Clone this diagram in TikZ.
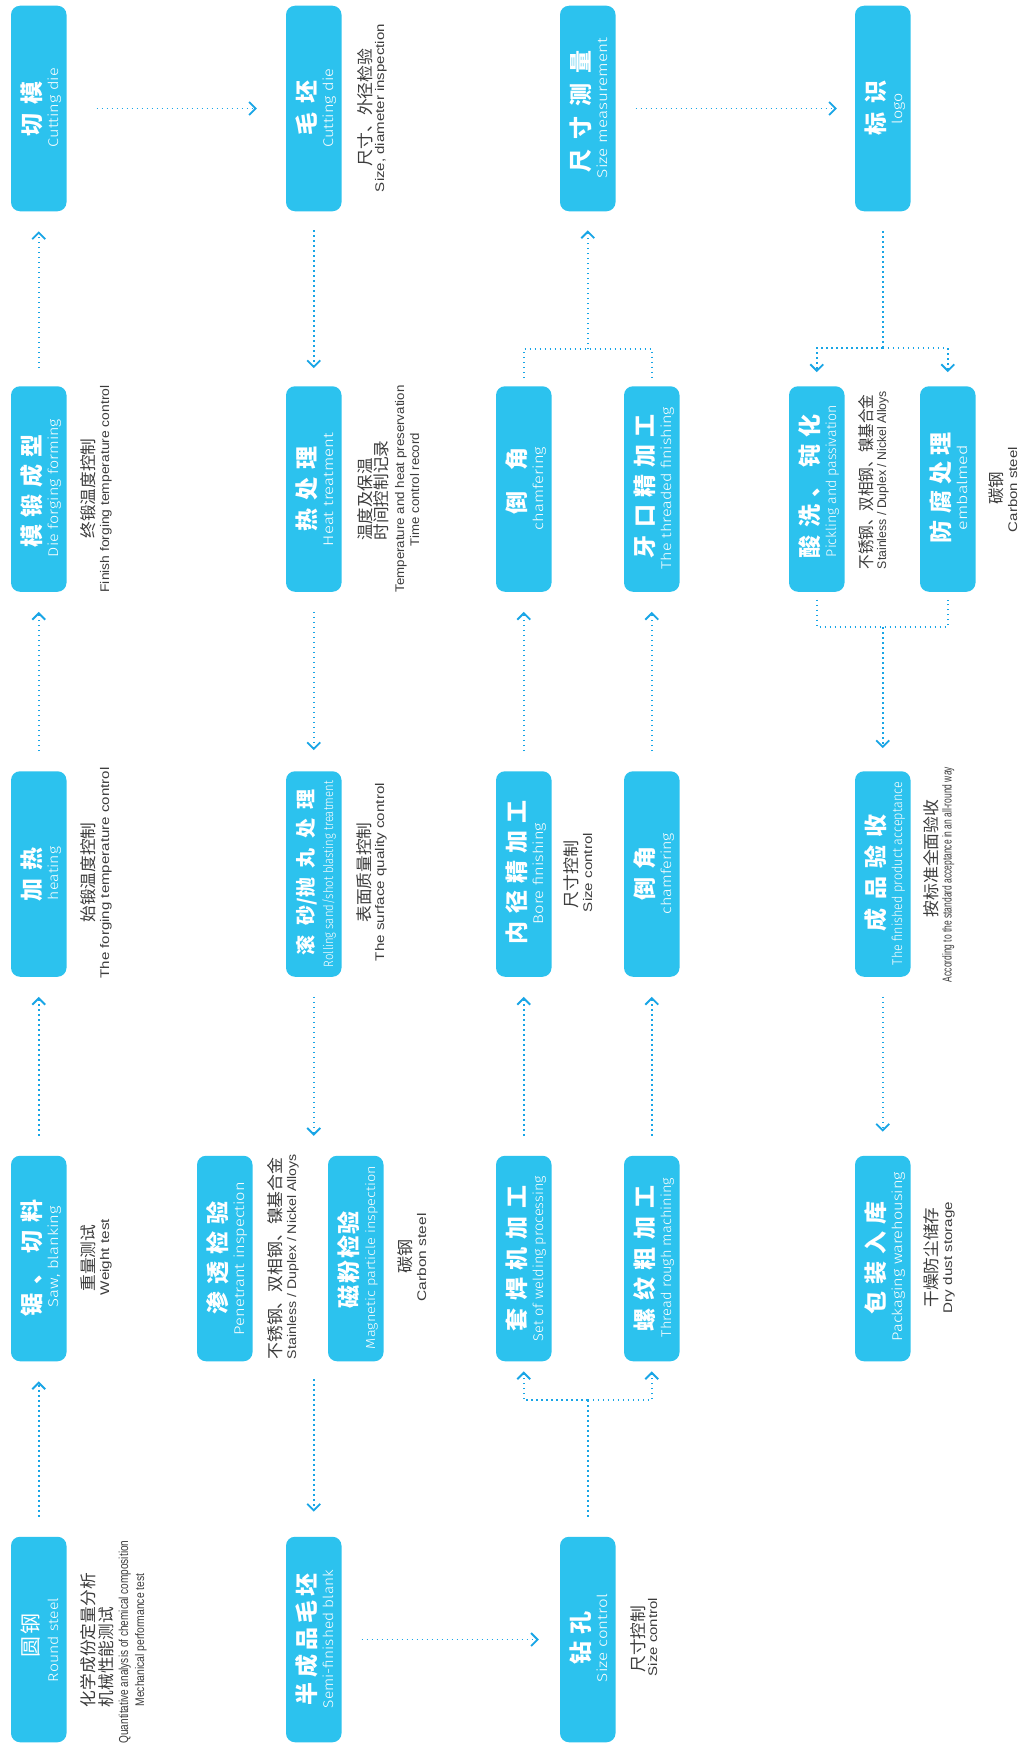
\documentclass[tikz,border=0pt]{standalone}
\usepackage{fontspec}
\usetikzlibrary{arrows.meta,calc}
\newfontfamily\zhf{Noto Sans CJK SC}
\newfontfamily\enf{Fira Sans Light}
\newfontfamily\ena{Liberation Sans}
\definecolor{boxc}{RGB}{44,194,238}
\definecolor{arrc}{RGB}{24,165,230}
\definecolor{annc}{RGB}{60,60,60}
\newsavebox\fitbox
\newlength\fitlen
\newcommand\fitto[2]{\sbox\fitbox{#2}\setlength\fitlen{\wd\fitbox}\pgfmathsetmacro\fitr{#1/\fitlen}\scalebox{\fitr}[1]{\usebox\fitbox}}
\newcommand\ZT[3]{{\zhf\bfseries\fontsize{#1pt}{#1pt}\selectfont\hbox to #2pt{#3}}}
\newcommand\ZR[3]{{\zhf\fontsize{#1pt}{#1pt}\selectfont\hbox to #2pt{#3}}}
\newcommand\ET[3]{\fitto{#2}{\enf\fontsize{#1pt}{#1pt}\selectfont #3}}
\newcommand\ZA[2]{\fitto{#1}{\zhf\fontsize{16.5pt}{16.5pt}\selectfont #2}}
\newcommand\EA[3]{\fitto{#2}{\ena\fontsize{#1pt}{#1pt}\selectfont #3}}
\newcommand\gp{\hfil}
\begin{document}
\begin{tikzpicture}[x=1pt,y=-1pt,
  pbox/.style={fill=boxc, draw=none, rounded corners=9pt, minimum width=55.5pt, minimum height=205.5pt, inner sep=0pt},
  ttl/.style={rotate=90, anchor=base, inner sep=0pt, outer sep=0pt, text=white},
  ann/.style={rotate=90, anchor=base, inner sep=0pt, outer sep=0pt, text=annc},
  flow/.style={draw=arrc, line width=1.5pt, dash pattern=on 1.5pt off 3.5pt},
  chev/.style={-{Straight Barb[length=6.5pt,width=13pt,line width=1.8pt]}}]
\fill[white] (0,0) rectangle (1024,1745);
\useasboundingbox (0,0) rectangle (1024,1745);

% ---------------- boxes ----------------
\node[pbox] (qiemo) at (38.75,108.5) {};
\node[pbox] (moduan) at (38.75,489) {};
\node[pbox] (jiare) at (38.75,874) {};
\node[pbox] (juqie) at (38.75,1258.5) {};
\node[pbox] (yuangang) at (38.75,1639.5) {};
\node[pbox] (shentou) at (224.75,1258.5) {};
\node[pbox] (maopi) at (313.75,108.5) {};
\node[pbox] (rechuli) at (313.75,489) {};
\node[pbox] (gunsha) at (313.75,874) {};
\node[pbox] (banchengpin) at (313.75,1639.5) {};
\node[pbox] (cifen) at (355.75,1258.5) {};
\node[pbox] (daojiao1) at (523.75,489) {};
\node[pbox] (neijing) at (523.75,874) {};
\node[pbox] (taohan) at (523.75,1258.5) {};
\node[pbox] (chicun) at (587.75,108.5) {};
\node[pbox] (zuankong) at (587.75,1639.5) {};
\node[pbox] (yakou) at (651.75,489) {};
\node[pbox] (daojiao2) at (651.75,874) {};
\node[pbox] (luowen) at (651.75,1258.5) {};
\node[pbox] (suanxi) at (816.75,489) {};
\node[pbox] (biaoshi) at (882.75,108.5) {};
\node[pbox] (chengpin) at (882.75,874) {};
\node[pbox] (baozhuang) at (882.75,1258.5) {};
\node[pbox] (fangfu) at (947.75,489) {};

% ---------------- titles ----------------
\node[ttl] (qiemo-zh) at (40,108.5) {\ZT{23}{55}{切\gp 模}};
\node[ttl] (qiemo-en) at (58,107.5) {\ET{14}{79}{Cutting die}};
\node[ttl] (moduan-zh) at (40,490.5) {\ZT{23}{113}{模\gp 锻\gp 成\gp 型}};
\node[ttl] (moduan-en) at (58,488) {\ET{14}{138}{Die forging forming}};
\node[ttl] (jiare-zh) at (40,874.5) {\ZT{23}{54}{加\gp 热}};
\node[ttl] (jiare-en) at (58,873.5) {\ET{14}{53}{heating}};
\node[ttl] (juqie-zh) at (40,1257.5) {\ZT{23}{117}{锯\gp 、\gp 切\gp 料}};
\node[ttl] (juqie-en) at (58,1256.5) {\ET{14}{101}{Saw, blanking}};
\node[ttl] (yuangang-zh) at (38.5,1635) {\ZR{21}{44}{圆\gp 钢}};
\node[ttl] (yuangang-en) at (58,1640) {\ET{14}{84}{Round steel}};

\node[ttl] (shentou-zh) at (226,1257.5) {\ZT{23}{113}{渗\gp 透\gp 检\gp 验}};
\node[ttl] (shentou-en) at (244,1258.5) {\ET{14}{153}{Penetrant inspection}};
\node[ttl] (maopi-zh) at (315,107.5) {\ZT{23}{55}{毛\gp 坯}};
\node[ttl] (maopi-en) at (333,108) {\ET{14}{79}{Cutting die}};
\node[ttl] (rechuli-zh) at (315,488.5) {\ZT{23}{85}{热\gp 处\gp 理}};
\node[ttl] (rechuli-en) at (333,489.5) {\ET{14}{113}{Heat treatment}};
\node[ttl] (gunsha-zh) at (313.5,872) {\ZT{20}{166}{滚\gp 砂/抛\gp 丸\gp 处\gp 理}};
\node[ttl] (gunsha-en) at (333,874) {\ET{13.5}{186}{Rolling sand/shot blasting treatment}};
\node[ttl] (banchengpin-zh) at (315,1639) {\ZT{23}{132}{半\gp 成\gp 品\gp 毛\gp 坯}};
\node[ttl] (banchengpin-en) at (333,1639) {\ET{14}{138}{Semi-finished blank}};
\node[ttl] (cifen-zh) at (357,1259.5) {\ZT{23}{97}{磁\gp 粉\gp 检\gp 验}};
\node[ttl] (cifen-en) at (375,1257.5) {\ET{13}{183}{Magnetic particle inspection}};

\node[ttl] (daojiao1-zh) at (525,481) {\ZT{23}{67}{倒\gp 角}};
\node[ttl] (daojiao1-en) at (543,488.5) {\ET{14}{83}{chamfering}};
\node[ttl] (neijing-zh) at (525,872) {\ZT{23}{144}{内\gp 径\gp 精\gp 加\gp 工}};
\node[ttl] (neijing-en) at (543,873.5) {\ET{14}{101}{Bore finishing}};
\node[ttl] (taohan-zh) at (525,1258.5) {\ZT{23}{146}{套\gp 焊\gp 机\gp 加\gp 工}};
\node[ttl] (taohan-en) at (543,1258.5) {\ET{14}{165}{Set of welding processing}};
\node[ttl] (chicun-zh) at (589,111) {\ZT{23}{122}{尺\gp 寸\gp 测\gp 量}};
\node[ttl] (chicun-en) at (607,108) {\ET{14}{140}{Size measurement}};
\node[ttl] (zuankong-zh) at (589,1638) {\ZT{23}{53}{钻\gp 孔}};
\node[ttl] (zuankong-en) at (607,1638) {\ET{14}{88}{Size control}};
\node[ttl] (yakou-zh) at (653,486) {\ZT{23}{144}{牙\gp 口\gp 精\gp 加\gp 工}};
\node[ttl] (yakou-en) at (671,488) {\ET{14}{162}{The threaded finishing}};
\node[ttl] (daojiao2-zh) at (653,873.5) {\ZT{23}{54}{倒\gp 角}};
\node[ttl] (daojiao2-en) at (671,873.5) {\ET{14}{81}{chamfering}};
\node[ttl] (luowen-zh) at (653,1258.5) {\ZT{23}{146}{螺\gp 纹\gp 粗\gp 加\gp 工}};
\node[ttl] (luowen-en) at (671,1257.5) {\ET{14}{159}{Thread rough machining}};

\node[ttl] (suanxi-zh) at (818,486) {\ZT{23}{144}{酸\gp 洗\gp 、\gp 钝\gp 化}};
\node[ttl] (suanxi-en) at (836,481) {\ET{14}{152}{Pickling and passivation}};
\node[ttl] (biaoshi-zh) at (884,107.5) {\ZT{23}{55}{标\gp 识}};
\node[ttl] (biaoshi-en) at (902,109) {\ET{14}{31}{logo}};
\node[ttl] (chengpin-zh) at (884,872.5) {\ZT{23}{117}{成\gp 品\gp 验\gp 收}};
\node[ttl] (chengpin-en) at (902,873.5) {\ET{14}{183}{The finished product acceptance}};
\node[ttl] (baozhuang-zh) at (884,1257.5) {\ZT{23}{113}{包\gp 装\gp 入\gp 库}};
\node[ttl] (baozhuang-en) at (902,1256.5) {\ET{14}{169}{Packaging warehousing}};
\node[ttl] (fangfu-zh) at (949,487.5) {\ZT{23}{111}{防\gp 腐\gp 处\gp 理}};
\node[ttl] (fangfu-en) at (967,487.5) {\ET{14}{85}{embalmed}};

% ---------------- annotations ----------------
\node[ann] (moduan-a1) at (94,488.5) {\ZA{100}{终锻温度控制}};
\node[ann] (moduan-a2) at (109,489) {\EA{12.5}{207}{Finish forging temperature control}};
\node[ann] (jiare-a1) at (94,872.5) {\ZA{100}{始锻温度控制}};
\node[ann] (jiare-a2) at (109,873) {\EA{12.5}{211}{The forging temperature control}};
\node[ann] (juqie-a1) at (94,1258) {\ZA{67}{重量测试}};
\node[ann] (juqie-a2) at (109,1257) {\EA{12.5}{76}{Weight test}};
\node[ann] (yuangang-a1) at (94,1640) {\ZA{134}{化学成份定量分析}};
\node[ann] (yuangang-a2) at (112,1657) {\ZA{100}{机械性能测试}};
\node[ann] (yuangang-a3) at (128,1642) {\EA{13}{203}{Quantitative analysis of chemical composition}};
\node[ann] (yuangang-a4) at (144,1640) {\EA{12.5}{133}{Mechanical performance test}};

\node[ann] (shentou-a1) at (281,1258.5) {\ZA{202}{不锈钢、双相钢、镍基合金}};
\node[ann] (shentou-a2) at (296,1256.5) {\EA{12.5}{205}{Stainless / Duplex / Nickel Alloys}};
\node[ann] (maopi-a1) at (371,107.5) {\ZA{118}{尺寸、外径检验}};
\node[ann] (maopi-a2) at (384,108) {\EA{12.5}{168}{Size, diameter inspection}};
\node[ann] (rechuli-a1) at (371,499.5) {\ZA{82}{温度及保温}};
\node[ann] (rechuli-a2) at (387,490.5) {\ZA{100}{时间控制记录}};
\node[ann] (rechuli-a3) at (404,489) {\EA{12.5}{207}{Temperature and heat preservation}};
\node[ann] (rechuli-a4) at (419,489.5) {\EA{12.5}{113}{Time control record}};
\node[ann] (gunsha-a1) at (370,872.5) {\ZA{100}{表面质量控制}};
\node[ann] (gunsha-a2) at (384,872) {\EA{12.5}{178}{The surface quality control}};
\node[ann] (cifen-a1) at (411,1256.5) {\ZA{34}{碳钢}};
\node[ann] (cifen-a2) at (426,1257.5) {\EA{12.5}{88}{Carbon steel}};

\node[ann] (neijing-a1) at (577,874.5) {\ZA{68}{尺寸控制}};
\node[ann] (neijing-a2) at (592,872.5) {\EA{12.5}{79}{Size control}};
\node[ann] (zuankong-a1) at (644,1639) {\ZA{67}{尺寸控制}};
\node[ann] (zuankong-a2) at (657,1637) {\EA{12.5}{78}{Size control}};

\node[ann] (suanxi-a1) at (872,482) {\ZA{175}{不锈钢、双相钢、镍基合金}};
\node[ann] (suanxi-a2) at (886,480) {\EA{12.5}{178}{Stainless / Duplex / Nickel Alloys}};
\node[ann] (fangfu-a1) at (1002,488) {\ZA{33}{碳钢}};
\node[ann] (fangfu-a2) at (1017,489.5) {\EA{12.5}{85}{Carbon steel}};
\node[ann] (chengpin-a1) at (937,858.5) {\ZA{118}{按标准全面验收}};
\node[ann] (chengpin-a2) at (951.5,874.5) {\EA{13}{215}{According to the standard acceptance in an all-round way}};
\node[ann] (baozhuang-a1) at (937,1257.5) {\ZA{100}{干燥防尘储存}};
\node[ann] (baozhuang-a2) at (952,1257.5) {\EA{12.5}{111}{Dry dust storage}};

% ---------------- connectors ----------------
\coordinate (inspT) at (313.75,1155.75);
\coordinate (inspB) at (313.75,1361.25);
\coordinate (zkJ) at (587.75,1400);
\coordinate (mJ) at (587.75,349);
\coordinate (bJ) at (882.75,348);
\coordinate (sJ) at (882.75,627);

\draw[flow,chev,shorten <=20pt,shorten >=20pt] (yuangang.north) -- (juqie.south);
\draw[flow,chev,shorten <=20pt,shorten >=20pt] (juqie.north) -- (jiare.south);
\draw[flow,chev,shorten <=20pt,shorten >=20pt] (jiare.north) -- (moduan.south);
\draw[flow,chev,shorten <=18pt,shorten >=20pt] (moduan.north) -- (qiemo.south);
\draw[flow,chev,shorten <=30pt,shorten >=29pt] (qiemo.east) -- (maopi.west);
\draw[flow,chev,shorten <=19pt,shorten >=18pt] (maopi.south) -- (rechuli.north);
\draw[flow,chev,shorten <=20pt,shorten >=21pt] (rechuli.south) -- (gunsha.north);
\draw[flow,chev,shorten <=20pt,shorten >=20pt] (gunsha.south) -- (inspT);
\draw[flow,chev,shorten <=18pt,shorten >=25pt] (inspB) -- (banchengpin.north);
\draw[flow,chev,shorten <=20pt,shorten >=21pt] (banchengpin.east) -- (zuankong.west);

\draw[flow] ($(zuankong.north)+(0,-20)$) -- (zkJ);
\draw[flow,chev] (zkJ) -| ($(taohan.south)+(0,10)$);
\draw[flow,chev] (zkJ) -| ($(luowen.south)+(0,10)$);
\draw[flow,chev,shorten <=20pt,shorten >=20pt] (taohan.north) -- (neijing.south);
\draw[flow,chev,shorten <=20pt,shorten >=20pt] (neijing.north) -- (daojiao1.south);
\draw[flow,chev,shorten <=20pt,shorten >=20pt] (luowen.north) -- (daojiao2.south);
\draw[flow,chev,shorten <=20pt,shorten >=20pt] (daojiao2.north) -- (yakou.south);
\draw[flow] ($(daojiao1.north)+(0,-8)$) |- (mJ) -| ($(yakou.north)+(0,-8)$);
\draw[flow,chev,shorten >=19pt] (mJ) -- (chicun.south);
\draw[flow,chev,shorten <=20pt,shorten >=18pt] (chicun.east) -- (biaoshi.west);

\draw[flow,shorten <=20pt] (biaoshi.south) -- (bJ);
\draw[flow,chev] (bJ) -| ($(suanxi.north)+(0,-14)$);
\draw[flow,chev] (bJ) -| ($(fangfu.north)+(0,-14)$);
\draw[flow] ($(suanxi.south)+(0,8)$) |- (sJ) -| ($(fangfu.south)+(0,8)$);
\draw[flow,chev,shorten >=23pt] (sJ) -- (chengpin.north);
\draw[flow,chev,shorten <=20pt,shorten >=24pt] (chengpin.south) -- (baozhuang.north);
\end{tikzpicture}
\end{document}
